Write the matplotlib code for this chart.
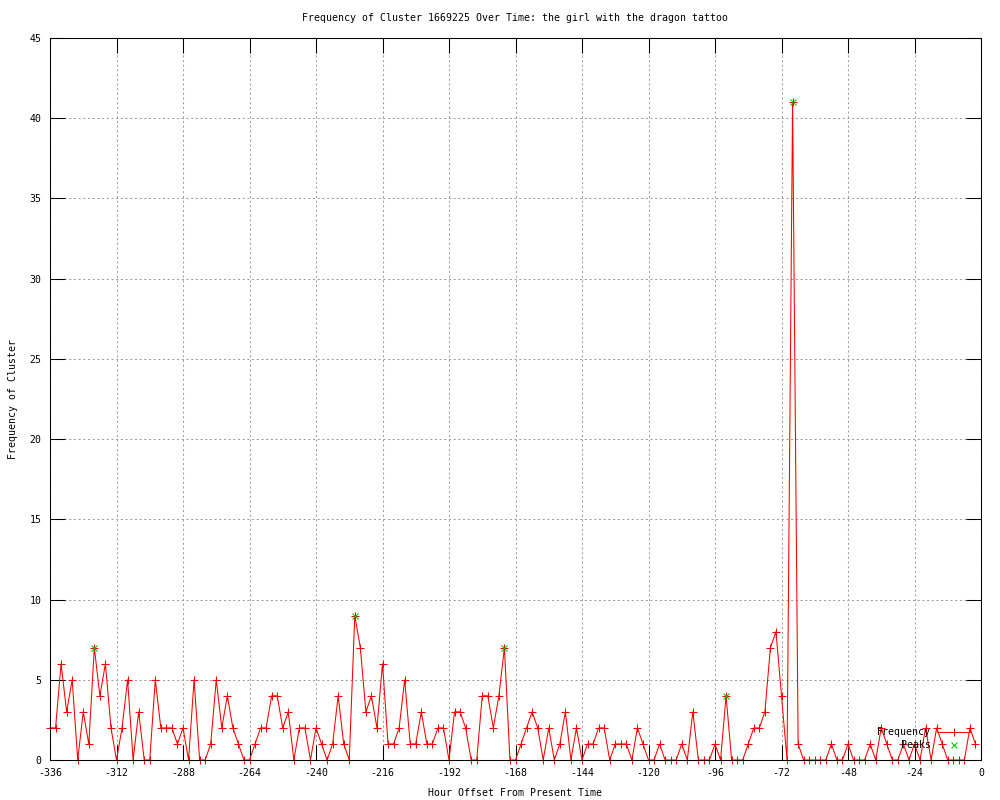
import matplotlib
matplotlib.use("Agg")
from matplotlib import pyplot as plt

# hour offsets (every 2 hours from -336 to -2) and counts
hours = list(range(-336, 0, 2))
freq = [2, 2, 6, 3, 5, 0, 3, 1, 7, 4,
        6, 2, 0, 2, 5, 0, 3, 0, 0, 5,
        2, 2, 2, 1, 2, 0, 5, 0, 0, 1,
        5, 2, 4, 2, 1, 0, 0, 1, 2, 2,
        4, 4, 2, 3, 0, 2, 2, 0, 2, 1,
        0, 1, 4, 1, 0, 9, 7, 3, 4, 2,
        6, 1, 1, 2, 5, 1, 1, 3, 1, 1,
        2, 2, 0, 3, 3, 2, 0, 0, 4, 4,
        2, 4, 7, 0, 0, 1, 2, 3, 2, 0,
        2, 0, 1, 3, 0, 2, 0, 1, 1, 2,
        2, 0, 1, 1, 1, 0, 2, 1, 0, 0,
        1, 0, 0, 0, 1, 0, 3, 0, 0, 0,
        1, 0, 4, 0, 0, 0, 1, 2, 2, 3,
        7, 8, 4, 0, 41, 1, 0, 0, 0, 0,
        0, 1, 0, 0, 1, 0, 0, 0, 1, 0,
        2, 1, 0, 0, 1, 0, 1, 0, 2, 0,
        2, 1, 0, 0, 0, 0, 2, 1]

peak_hours = [-320, -226, -172, -92, -68]
peak_freq = [7, 9, 7, 4, 41]

xticks = list(range(-336, 1, 24))
yticks = list(range(0, 46, 5))

plt.rcParams['font.family'] = 'DejaVu Sans Mono'
plt.rcParams['font.size'] = 7.15
plt.rcParams['axes.unicode_minus'] = False

fig = plt.figure(figsize=(10, 8), dpi=100)
ax = fig.add_axes([0.05, 0.05, 0.931, 0.9025])

ax.plot(hours, freq, color='#ff0000', lw=0.75, marker='+', ms=5.5, mew=0.75,
        clip_on=False, zorder=3)
ax.plot(peak_hours, peak_freq, ls='none', marker='x', color='#00c000', ms=4.5,
        mew=0.75, clip_on=False, zorder=4)

ax.set_xlim(-336, 0)
ax.set_ylim(0, 45)
ax.set_xticks(xticks)
ax.set_yticks(yticks)
ax.tick_params(direction='in', length=11, width=0.75, top=True, right=True,
               labelsize=7.15, pad=6)
ax.grid(True, color='#a0a0a0', lw=0.75, ls=(0, (2, 2.5)))
for s in ax.spines.values():
    s.set_linewidth(0.75)
    s.set_zorder(5)

fig.text(0.5155, 1 - 18 / 800, 'Frequency of Cluster 1669225 Over Time: the girl with the dragon tattoo',
         ha='center', va='center')
ax.set_xlabel('Hour Offset From Present Time')
ax.xaxis.set_label_coords(0.5, -33 / 722)
ax.xaxis.label.set_va('center')
ax.set_ylabel('Frequency of Cluster')
ax.yaxis.set_label_coords(-37 / 931, 0.5)
ax.yaxis.label.set_va('center')

# gnuplot style key, bottom right inside the plot
ax.text(0.9463, 0.0388, 'Frequency', transform=ax.transAxes, ha='right', va='center')
ax.plot([0.9527, 0.9893], [0.0388, 0.0388], transform=ax.transAxes, color='#ff0000', lw=0.75)
ax.plot([0.971], [0.0388], transform=ax.transAxes, color='#ff0000', marker='+', ms=5.5, mew=0.75)
ax.text(0.9463, 0.0201, 'Peaks', transform=ax.transAxes, ha='right', va='center')
ax.plot([0.971], [0.0201], transform=ax.transAxes, color='#00c000', marker='x', ms=4.5, mew=0.75)

fig.savefig('out.png', dpi=100)
